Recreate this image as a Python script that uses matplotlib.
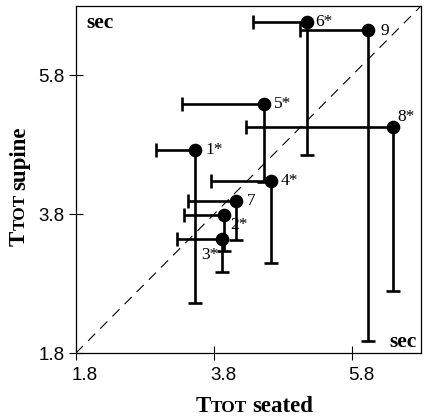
import matplotlib
matplotlib.use("Agg")
import matplotlib.pyplot as plt
from matplotlib.transforms import IdentityTransform, ScaledTranslation

# ---- data ----
labels = ['1*', '2*', '3*', '4*', '5*', '6*', '7', '8*', '9']
seated = [3.53, 3.95, 3.92, 4.62, 4.52, 5.15, 4.12, 6.39, 6.03]
supine = [4.72, 3.79, 3.44, 4.28, 5.39, 6.57, 3.99, 5.05, 6.45]
seated_low = [2.96, 3.36, 3.26, 3.76, 3.33, 4.37, 3.42, 4.27, 5.04]
supine_low = [2.52, 3.27, 2.96, 3.09, 4.27, 4.66, 3.43, 2.70, 1.98]
ticks = [1.8, 3.8, 5.8]
tick_labels = ['1.8', '3.8', '5.8']
lims = [1.8, 6.8]

# label offsets in pixels (style only)
label_offsets = [(10, 0), (6, -10), (-21, -16), (10, 0), (10, 0), (8, 0),
                 (11, 0), (5, 10), (13, -1)]

W, H = 424, 418
fig = plt.figure(figsize=(W / 100, H / 100), dpi=100)
ax = fig.add_axes([76 / W, (H - 353) / H, 345 / W, 347 / H])
ax.set_xlim(lims)
ax.set_ylim(lims)

# identity line
ax.plot(lims, lims, color='black', lw=0.8, ls=(0, (9, 6.5)))

lw = 1.9
ax.hlines(supine, seated_low, seated, color='black', lw=lw)
ax.vlines(seated, supine_low, supine, color='black', lw=lw)
ax.plot(seated_low, supine, ls='none', marker='|', ms=10.5, mew=lw, color='black')
ax.plot(seated, supine_low, ls='none', marker='_', ms=10.5, mew=lw, color='black')
ax.plot(seated, supine, ls='none', marker='o', ms=8.8, color='black')

for lab, x, y, off in zip(labels, seated, supine, label_offsets):
    ax.annotate(lab, (x, y), xytext=off, textcoords='offset pixels',
                ha='left', va='center', fontsize=12.5, family='Liberation Serif')

ax.text(0.029, 0.937, 'sec', transform=ax.transAxes, fontsize=15.5,
        family='Liberation Serif', weight='bold', ha='left', va='baseline')
ax.text(0.988, 0.017, 'sec', transform=ax.transAxes, fontsize=15.5,
        family='Liberation Serif', weight='bold', ha='right', va='baseline')

ax.set_xticks(ticks)
ax.set_xticklabels(tick_labels)
ax.set_yticks(ticks)
ax.set_yticklabels(tick_labels)
ax.tick_params(direction='inout', length=10, width=0.8, labelsize=13.5, pad=3)
for lab in ax.get_xticklabels() + ax.get_yticklabels():
    lab.set_family('Liberation Sans')
off = ScaledTranslation(9 / 100, -3 / 100, fig.dpi_scale_trans)
for lab in ax.get_xticklabels():
    lab.set_transform(lab.get_transform() + off)
for sp in ax.spines.values():
    sp.set_linewidth(0.9)


def compound_text(parts, cx, cy, rotation=0, base=16.5):
    r = fig.canvas.get_renderer()
    texts = []
    for s, scale, gap in parts:
        t = fig.text(0, 0, s, fontsize=base * scale, family='Liberation Serif',
                     weight='bold', transform=IdentityTransform(),
                     rotation=rotation, rotation_mode='anchor',
                     ha='left', va='baseline')
        texts.append((t, gap))
    sizes = []
    for t, gap in texts:
        bb = t.get_window_extent(r)
        sizes.append((bb.width if rotation == 0 else bb.height) + gap)
    pos = -sum(sizes) / 2
    for (t, gap), s in zip(texts, sizes):
        if rotation == 0:
            t.set_position((cx + pos, cy))
        else:
            t.set_position((cx, cy + pos))
        pos += s


fig.canvas.draw()
gap = 4.5
compound_text([('T', 1.0, 0.5), ('TOT', 0.75, gap), ('seated', 1.0, 0)], 254, H - 412)
compound_text([('T', 1.0, 0.5), ('TOT', 0.75, gap), ('supine', 1.0, 0)], 25, H - 186,
              rotation=90)

fig.savefig('out.png', dpi=100)
